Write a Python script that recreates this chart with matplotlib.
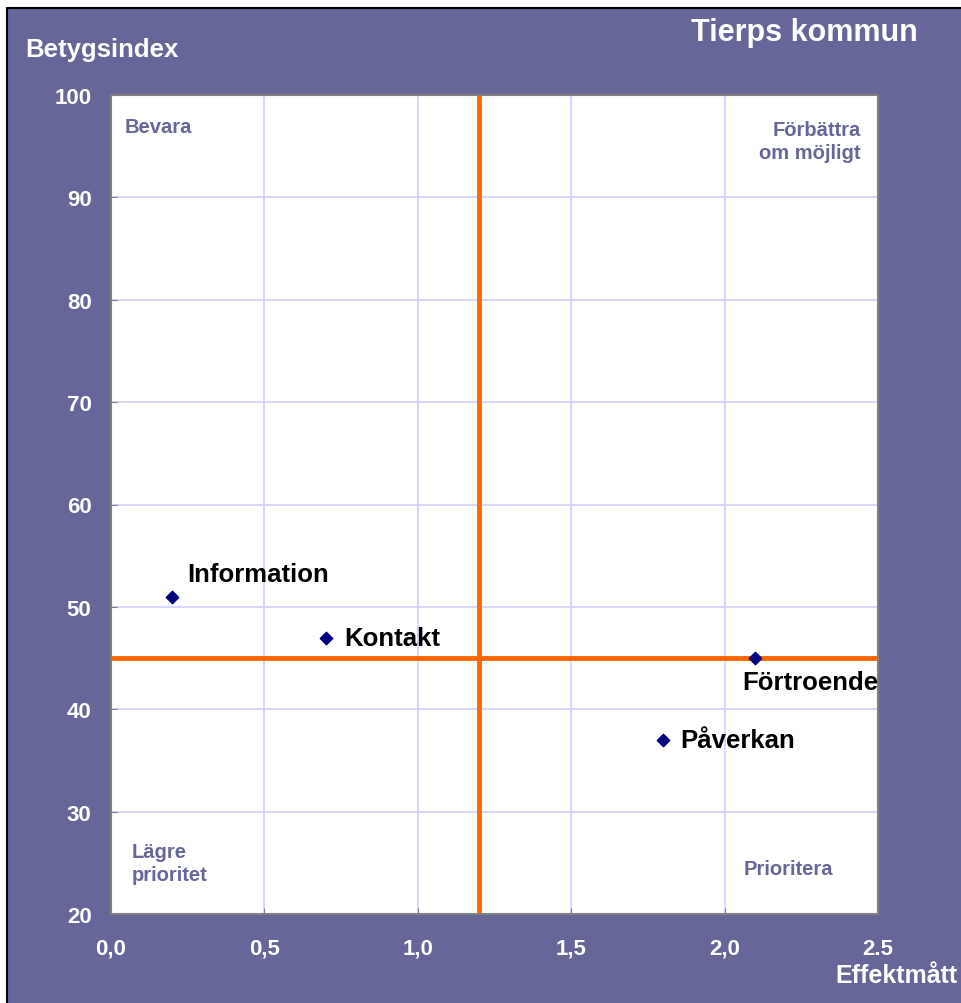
import matplotlib
matplotlib.use("Agg")
import matplotlib.pyplot as plt
from matplotlib.patches import Rectangle

names = ["Information", "Kontakt", "Förtroende", "Påverkan"]
effekt = [0.2, 0.7, 2.1, 1.8]
betyg = [51, 47, 45, 37]
x_ticks = [0.0, 0.5, 1.0, 1.5, 2.0, 2.5]
x_ticklabels = ["0,0", "0,5", "1,0", "1,5", "2,0", "2.5"]
y_ticks = [20, 30, 40, 50, 60, 70, 80, 90, 100]
v_line = 1.2
h_line = 45

plt.rcParams['font.family'] = ['Liberation Sans', 'DejaVu Sans']
PURPLE = '#666699'

fig = plt.figure(figsize=(9.62, 10.04), dpi=100)
fig.patch.set_facecolor('white')
bg = Rectangle((7/962, -0.01), 1.0, (1004-9)/1004 + 0.01, transform=fig.transFigure,
               facecolor=PURPLE, edgecolor='black', linewidth=1.5, zorder=-10)
fig.patches.append(bg)

ax = fig.add_axes([111/962, 89/1004, 767/962, 819/1004])
ax.set_zorder(5)
ax.set_facecolor('white')
ax.set_xlim(0, 2.5)
ax.set_ylim(20, 100)
ax.set_xticks(x_ticks)
ax.set_xticklabels(x_ticklabels)
ax.set_yticks(y_ticks)
ax.grid(True, color='#d0d0ff', linewidth=1.2)
ax.set_axisbelow(True)
for s in ax.spines.values():
    s.set_color('#808080')
    s.set_linewidth(1.5)
ax.tick_params(axis='both', colors='#808080', length=4, direction='in', labelcolor='white', labelsize=16)
ax.tick_params(axis='y', pad=14)
ax.tick_params(axis='x', pad=17)
for lbl in ax.get_xticklabels() + ax.get_yticklabels():
    lbl.set_fontweight('bold')

ax.axvline(v_line, color='#ff6600', linewidth=3.5, zorder=2)
ax.axhline(h_line, color='#ff6600', linewidth=3.5, zorder=2)

ax.scatter(effekt, betyg, marker='D', s=40, color='#000080', zorder=3)

offsets = {
    "Information": (11, 16, 'left', 'center'),
    "Kontakt": (13, 0, 'left', 'center'),
    "Förtroende": (-9.5, -17, 'left', 'center'),
    "Påverkan": (12, 0, 'left', 'center'),
}
for n, x, y in zip(names, effekt, betyg):
    dx, dy, ha, va = offsets[n]
    ax.annotate(n, (x, y), xytext=(dx, dy), textcoords='offset points', ha=ha, va=va,
                fontsize=18.5, fontweight='bold', color='black', zorder=4)

qc = PURPLE
ax.text(14/767, 1 - 32/819, "Bevara", transform=ax.transAxes, ha='left', va='center',
        fontsize=14.5, fontweight='bold', color=qc)
ax.text(1 - 17/767, 1 - 46/819, "Förbättra\nom möjligt", transform=ax.transAxes, ha='right', va='center',
        fontsize=14.5, fontweight='bold', color=qc, multialignment='right', linespacing=1.25)
ax.text(21/767, 51/819, "Lägre\nprioritet", transform=ax.transAxes, ha='left', va='center',
        fontsize=14.5, fontweight='bold', color=qc, linespacing=1.25)
ax.text(1 - 90/767, 45/819, "Prioritera", transform=ax.transAxes, ha='center', va='center',
        fontsize=14.5, fontweight='bold', color=qc)

fig.text(25/962, 1 - 50/1004, "Betygsindex", ha='left', va='center', fontsize=18.5, fontweight='bold', color='white')
fig.text(918/962, 1 - 33/1004, "Tierps kommun", ha='right', va='center', fontsize=22, fontweight='bold', color='white')
fig.text(958/962, 1 - 976/1004, "Effektmått", ha='right', va='center', fontsize=18, fontweight='bold', color='white')

fig.savefig('out.png', dpi=100, facecolor=fig.get_facecolor())
